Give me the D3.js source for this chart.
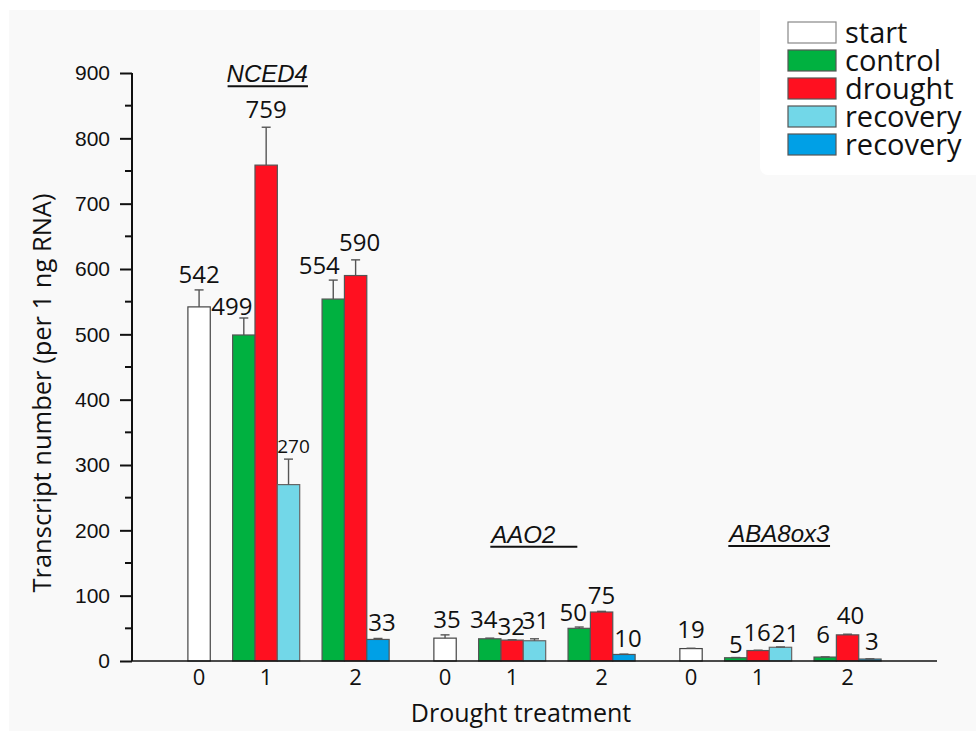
<!DOCTYPE html>
<html>
<head>
<meta charset="utf-8">
<script src="https://cdn.jsdelivr.net/npm/d3@7"></script>
<style>
  html, body { margin: 0; padding: 0; background: #ffffff; }
  svg { display: block; }
</style>
</head>
<body>
<svg id="chart" width="976" height="731"></svg>
<script>
// ---- data -------------------------------------------------------------
const genes = ["NCED4", "AAO2", "ABA8ox3"];
const timepoints = ["0", "1", "2"];
const yTicks = [0, 100, 200, 300, 400, 500, 600, 700, 800, 900];
const legendLabels = ["start", "control", "drought", "recovery", "recovery"];

// transcript numbers per gene (NCED4, AAO2, ABA8ox3)
const startT0     = [542, 35, 19];
const controlT1   = [499, 34, 5];
const droughtT1   = [759, 32, 16];
const recoveryT1  = [270, 31, 21];
const controlT2   = [554, 50, 6];
const droughtT2   = [590, 75, 40];
const recoveryT2  = [33, 10, 3];

// standard errors
const startT0Err    = [26, 5, 0.5];
const controlT1Err  = [26, 1, 0.3];
const droughtT1Err  = [58, 0.5, 0.5];
const recoveryT1Err = [39, 3, 0.5];
const controlT2Err  = [29, 2, 0.3];
const droughtT2Err  = [24, 1, 1];
const recoveryT2Err = [1.5, 0.5, 0.3];

// ---- layout / style ---------------------------------------------------
const colors = ["#ffffff", "#00b140", "#ff1020", "#72d7e8", "#00a0e6"];
const strokes = ["#444444", "#555555", "#555555", "#666666", "#555555"];
const groupSlots = [0, 3, 7];      // slot of each time point inside a gene block
const geneSpan = 11;               // slots per gene block
const memberShift = [0, -1, 0, 1, 1]; // slot shift of each series around its time point

// label nudges [dx, dy] for each bar, in draw order per gene
const labelNudge = [
  [[0, 0], [-12, 4], [0, -2], [5, 1], [-14, 1], [4, -2], [4, 0]],
  [[2, 0], [-6, -3], [-1, 2], [1, -3], [-6, 1], [0, 0], [4, 0]],
  [[0, -3], [0, 2], [-1, -2], [5, 2], [-2, -7], [3, -3], [2, -2]]
];
const geneLabelSlot = [3.05, 14.5, 25.95];
const geneLabelValue = [886, 181, 182];
const underlineExtra = [0, 22, 0];

// ---- build bar records ------------------------------------------------
const bars = [];
genes.forEach((g, gi) => {
  const rows = [
    { s: 0, t: 0, v: startT0[gi],    e: startT0Err[gi] },
    { s: 1, t: 1, v: controlT1[gi],  e: controlT1Err[gi] },
    { s: 2, t: 1, v: droughtT1[gi],  e: droughtT1Err[gi] },
    { s: 3, t: 1, v: recoveryT1[gi], e: recoveryT1Err[gi] },
    { s: 1, t: 2, v: controlT2[gi],  e: controlT2Err[gi] },
    { s: 2, t: 2, v: droughtT2[gi],  e: droughtT2Err[gi] },
    { s: 4, t: 2, v: recoveryT2[gi], e: recoveryT2Err[gi] }
  ];
  rows.forEach((r, i) => {
    bars.push(Object.assign({ gi, slot: gi * geneSpan + groupSlots[r.t] + memberShift[r.s],
      nudge: labelNudge[gi][i], small: (gi === 0 && r.s === 3) }, r));
  });
});

// ---- scales -----------------------------------------------------------
const svg = d3.select("#chart");
const x = d3.scaleLinear().domain([-3, 33]).range([132, 937]);
const y = d3.scaleLinear().domain([0, 900]).range([661, 73]);
const bw = x(1) - x(0);

// background panel and legend panel
svg.append("rect").attr("x", 9).attr("y", 10).attr("width", 967).attr("height", 721)
  .attr("fill", "#f9f9f9");
svg.append("rect").attr("x", 760).attr("y", -10).attr("width", 230).attr("height", 185)
  .attr("rx", 8).attr("fill", "#ffffff");

// ---- bars -------------------------------------------------------------
svg.append("g").selectAll("rect").data(bars).join("rect")
  .attr("x", d => x(d.slot) - bw / 2)
  .attr("y", d => y(d.v))
  .attr("width", bw)
  .attr("height", d => y(0) - y(d.v))
  .attr("fill", d => colors[d.s])
  .attr("stroke", d => strokes[d.s])
  .attr("stroke-width", 1.2);

// ---- error bars -------------------------------------------------------
const eg = svg.append("g").attr("stroke", "#555555").attr("stroke-width", 1.4);
eg.selectAll("line.v").data(bars).join("line").attr("class", "v")
  .attr("x1", d => x(d.slot)).attr("x2", d => x(d.slot))
  .attr("y1", d => y(d.v)).attr("y2", d => y(d.v + d.e));
eg.selectAll("line.c").data(bars).join("line").attr("class", "c")
  .attr("x1", d => x(d.slot) - 4.5).attr("x2", d => x(d.slot) + 4.5)
  .attr("y1", d => y(d.v + d.e)).attr("y2", d => y(d.v + d.e));

// ---- value labels -----------------------------------------------------
svg.append("g").selectAll("text").data(bars).join("text")
  .attr("x", d => x(d.slot) + d.nudge[0])
  .attr("y", d => y(d.v + d.e) - 7 + d.nudge[1])
  .attr("text-anchor", "middle")
  .attr("font-family", "'Open Sans', sans-serif")
  .attr("font-size", d => d.small ? 19 : 24)
  .attr("fill", "#111")
  .text(d => d.v);

// ---- axes -------------------------------------------------------------
const yAxis = d3.axisLeft(y).tickValues(yTicks).tickSize(12).tickPadding(10)
  .tickFormat(d3.format("d"));
const yg = svg.append("g").attr("transform", `translate(${x(-3)},0)`).call(yAxis);
yg.select(".domain").attr("stroke", "#111").attr("stroke-width", 2).attr("d", `M0,${y(0)}V${y(900)}`);
yg.selectAll(".tick line").attr("stroke", "#111").attr("stroke-width", 2);
yg.selectAll(".tick text").attr("font-family", "'Liberation Sans', Arial, sans-serif")
  .attr("font-size", 21).attr("fill", "#111");
// minor ticks
svg.append("g").selectAll("line").data(yTicks.slice(0, -1).map(v => v + 50)).join("line")
  .attr("x1", x(-3) - 7).attr("x2", x(-3))
  .attr("y1", d => y(d)).attr("y2", d => y(d))
  .attr("stroke", "#111").attr("stroke-width", 2);

// x baseline
svg.append("line").attr("x1", x(-3)).attr("x2", x(33)).attr("y1", y(0)).attr("y2", y(0))
  .attr("stroke", "#111").attr("stroke-width", 1.6);

// x tick labels (time points per gene)
const xTickData = [];
genes.forEach((g, gi) => timepoints.forEach((t, ti) => xTickData.push({ slot: gi * geneSpan + groupSlots[ti], t })));
svg.append("g").selectAll("text").data(xTickData).join("text")
  .attr("x", d => x(d.slot)).attr("y", 685)
  .attr("text-anchor", "middle")
  .attr("font-family", "'Open Sans', sans-serif").attr("font-size", 22).attr("fill", "#111")
  .text(d => d.t);

// axis titles
svg.append("text").attr("x", 521).attr("y", 722).attr("text-anchor", "middle")
  .attr("font-family", "'Open Sans', sans-serif").attr("font-size", 25).attr("fill", "#111")
  .text("Drought treatment");
svg.append("text").attr("transform", "translate(51,393) rotate(-90)").attr("text-anchor", "middle")
  .attr("font-family", "'Open Sans', sans-serif").attr("font-size", 25.5).attr("fill", "#111")
  .text("Transcript number (per 1 ng RNA)");

// ---- gene names -------------------------------------------------------
genes.forEach((g, gi) => {
  const t = svg.append("text")
    .attr("x", x(geneLabelSlot[gi])).attr("y", y(geneLabelValue[gi]))
    .attr("text-anchor", "middle")
    .attr("font-family", "'Liberation Sans', Arial, sans-serif")
    .attr("font-style", "italic").attr("font-size", 24).attr("fill", "#111")
    .text(g);
  const bb = t.node().getBBox();
  svg.append("line")
    .attr("x1", bb.x + 1).attr("x2", bb.x + bb.width + underlineExtra[gi])
    .attr("y1", y(geneLabelValue[gi]) + 4).attr("y2", y(geneLabelValue[gi]) + 4)
    .attr("stroke", "#111").attr("stroke-width", 2);
});

// ---- legend -----------------------------------------------------------
const lg = svg.append("g").attr("transform", "translate(788,22)");
const li = lg.selectAll("g").data(legendLabels).join("g")
  .attr("transform", (d, i) => `translate(0,${i * 28})`);
li.append("rect").attr("width", 48).attr("height", 21)
  .attr("fill", (d, i) => colors[i]).attr("stroke", (d, i) => i === 0 ? "#888" : "#555")
  .attr("stroke-width", 1.2);
li.append("text").attr("x", 57).attr("y", 21)
  .attr("font-family", "'Open Sans', sans-serif").attr("font-size", 29).attr("fill", "#111")
  .text(d => d);
</script>
</body>
</html>
